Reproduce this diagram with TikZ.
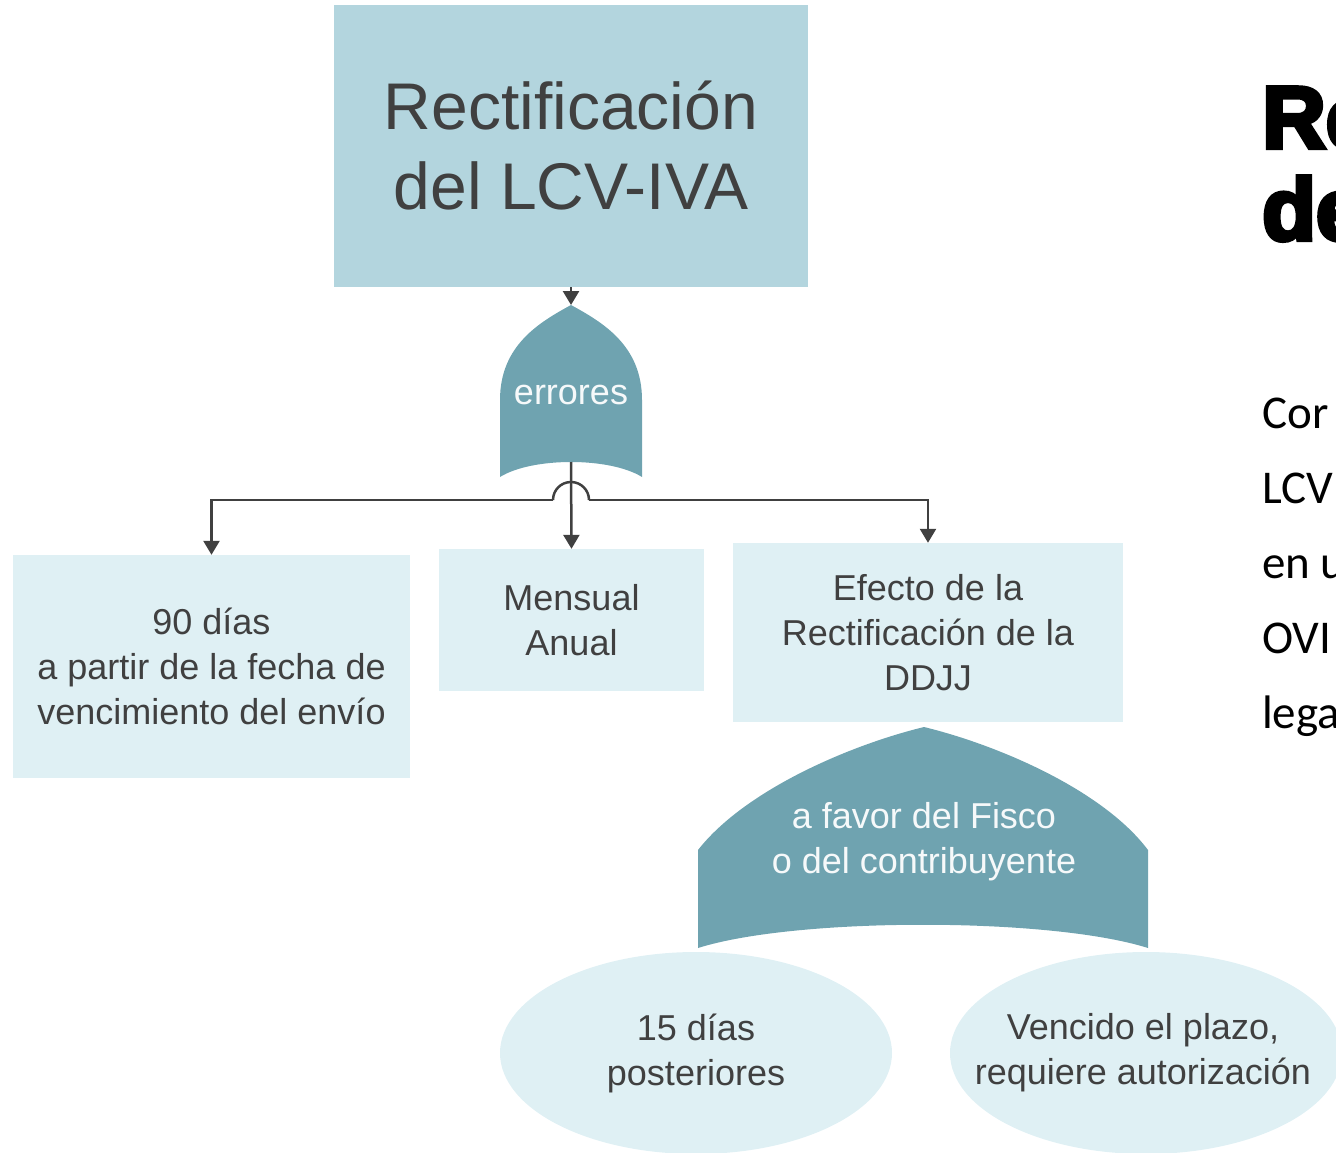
\documentclass[tikz,border=0pt]{standalone}
\usepackage{fontspec}
\setmainfont{Liberation Sans}
\newfontfamily\bodyfont{Carlito}
\newfontfamily\blackfont[FakeBold=5]{Liberation Sans Bold}
\usetikzlibrary{arrows.meta,shapes.geometric}
\definecolor{hdrblue}{HTML}{B3D5DE}
\definecolor{paleblue}{HTML}{DFF0F4}
\definecolor{gateblue}{HTML}{6FA3B0}
\definecolor{txtgray}{HTML}{404040}

\begin{document}
\begin{tikzpicture}[x=1pt,y=-1pt,
   boxa/.style={fill=hdrblue,minimum width=474pt,minimum height=282pt,align=center,text=txtgray,inner sep=0pt,font=\fontsize{66}{80}\selectfont},
   boxb/.style={fill=paleblue,align=center,text=txtgray,inner sep=0pt,font=\fontsize{36}{45}\selectfont},
   oval/.style={fill=paleblue,ellipse,inner sep=0pt,minimum width=392pt,minimum height=202pt},
   ovaltxt/.style={align=center,text=txtgray,font=\fontsize{36}{45}\selectfont},
   gatetxt/.style={text=white!94!gateblue,align=center,font=\fontsize{36}{45}\selectfont},
   line/.style={line width=2.5pt,draw=txtgray},
   arr/.style={line,-{Triangle[length=14pt,width=16pt]}}]
   \useasboundingbox (0,0) rectangle (1336,1153);
   \clip (0,0) rectangle (1336,1153);

   % boxes
   \node[boxa] (titulo) at (571,146) {Rectificación\\del LCV-IVA};
   \node[boxb,minimum width=397pt,minimum height=223pt] (plazo) at (211.5,666.5) {90 días\\a partir de la fecha de\\vencimiento del envío};
   \node[boxb,minimum width=265pt,minimum height=142pt] (mensual) at (571.5,620) {Mensual\\Anual};
   \node[boxb,minimum width=390pt,minimum height=179pt] (efecto) at (928,632.5) {Efecto de la\\Rectificación de la\\DDJJ};

   % gates
   \fill[gateblue] (500,477) -- (500,400) .. controls (500,345) and (540,322) .. (571,305)
      .. controls (602,322) and (642,345) .. (642,400) -- (642,477)
      .. controls (610,457) and (532,457) .. (500,477) -- cycle;
   \node[gatetxt] (errores) at (571,395) {errores};
   \coordinate (g1top) at (571,305);
   \coordinate (g1bot) at (571,462);

   \fill[gateblue] (698,948) -- (698,850) .. controls (745,790) and (850,745) .. (924,727)
      .. controls (998,745) and (1103,790) .. (1148,850) -- (1148,948)
      .. controls (1050,917) and (796,917) .. (698,948) -- cycle;
   \node[gatetxt] (favor) at (924,842) {a favor del Fisco\\o del contribuyente};

   % ovals
   \node[oval] (quince) at (696,1053) {};
   \node[ovaltxt] (quincetxt) at (quince) {15 días\\posteriores};
   \node[oval] (vencido) at (1146,1053) {};
   \node[ovaltxt] (vencidotxt) at ([xshift=-3pt]vencido) {Vencido el plazo,\\requiere autorización};

   % connectors
   \coordinate (hopL) at (553,500);
   \coordinate (hopR) at (589,500);
   \draw[arr] (titulo.south) -- (g1top);
   \draw[arr] (g1bot) -- (mensual.north);
   \draw[line] (hopR) arc[start angle=0,end angle=-180,radius=18];
   \draw[arr] (hopL) -| (plazo.north);
   \draw[arr] (hopR) -| (efecto.north);

   % slide text cut off at the right
   \node[anchor=base west,inner sep=0pt,font=\blackfont\fontsize{88}{92}\selectfont] (tit1) at (1262,148) {Re};
   \node[anchor=base west,inner sep=0pt,font=\blackfont\fontsize{88}{92}\selectfont] (tit2) at (1262,240) {de};
   \foreach \t/\yy [count=\i] in {Cor/428,LCV/503,en u/578,OVI/653,lega/728}
      \node[anchor=base west,inner sep=0pt,font=\bodyfont\fontsize{47}{56}\selectfont] (body\i) at (1262,\yy) {\t};
\end{tikzpicture}
\end{document}
